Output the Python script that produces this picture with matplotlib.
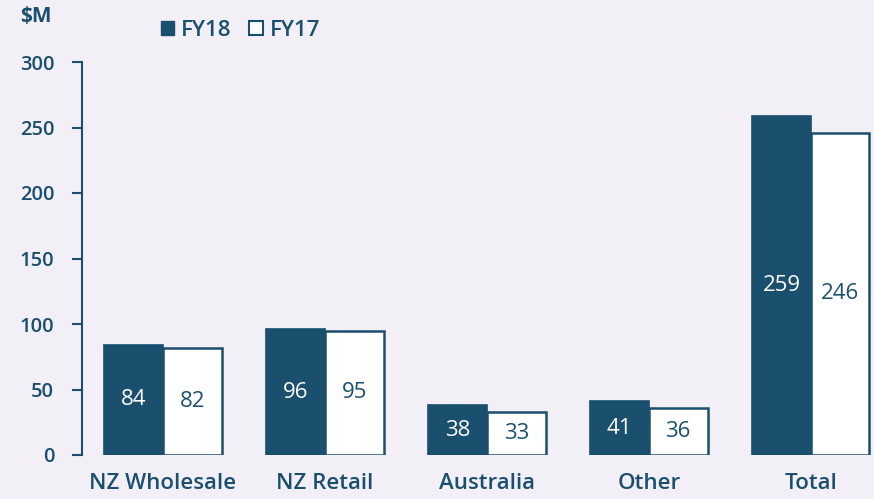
import matplotlib
matplotlib.use("Agg")
import matplotlib.pyplot as plt
import numpy as np
from matplotlib.patches import Patch

categories = ["NZ Wholesale", "NZ Retail", "Australia", "Other", "Total"]
fy18 = [84, 96, 38, 41, 259]
fy17 = [82, 95, 33, 36, 246]
yticks = [0, 50, 100, 150, 200, 250, 300]

dark = "#1B4F6E"
bg = "#F2EFF6"
plt.rcParams['font.family'] = ['Open Sans', 'DejaVu Sans']

fig = plt.figure(figsize=(8.74, 4.99), dpi=100, facecolor=bg)
ax = fig.add_axes([82/874, 44/499, 1 - 82/874, (455-62)/499])
ax.set_facecolor(bg)

x = np.arange(len(categories))
w = 0.362
ax.bar(x - w/2, fy18, w, color=dark, edgecolor=dark, linewidth=1.2)
ax.bar(x + w/2, fy17, w, color="white", edgecolor=dark, linewidth=1.8)

for xi, v in zip(x - w/2, fy18):
    ax.text(xi, v/2, str(v), ha="center", va="center", color="white", fontsize=16)
for xi, v in zip(x + w/2, fy17):
    ax.text(xi, v/2, str(v), ha="center", va="center", color=dark, fontsize=16)

ax.set_xlim(-0.5, 4.39)
ax.set_ylim(0, 300)
ax.set_yticks(yticks)
ax.set_yticklabels([str(t) for t in yticks], fontsize=14.5, fontweight="semibold", color=dark)
ax.set_xticks(x)
ax.set_xticklabels(categories, fontsize=16, fontweight="semibold", color=dark)
ax.tick_params(axis="x", length=0, pad=13)
ax.tick_params(axis="y", length=7, width=1.5, color=dark, pad=13)
for s in ["top", "right", "bottom"]:
    ax.spines[s].set_visible(False)
ax.spines["left"].set_color(dark)
ax.spines["left"].set_linewidth(1.5)

fig.text(20/874, 1 - 16/499, "$M", fontsize=15, fontweight="bold", color=dark, va="center", ha="left")

handles = [Patch(facecolor=dark, edgecolor=dark), Patch(facecolor="white", edgecolor=dark, linewidth=1.5)]
leg = fig.legend(handles, ["FY18", "FY17"], loc="center left", bbox_to_anchor=(141/874, 1 - 30/499),
                 ncol=2, frameon=False, handlelength=0.6, handleheight=0.6, handletextpad=0.3,
                 columnspacing=0.8, prop={"size": 16, "weight": "semibold"})
for t in leg.get_texts():
    t.set_color(dark)

fig.savefig("out.png", dpi=100, facecolor=bg)
